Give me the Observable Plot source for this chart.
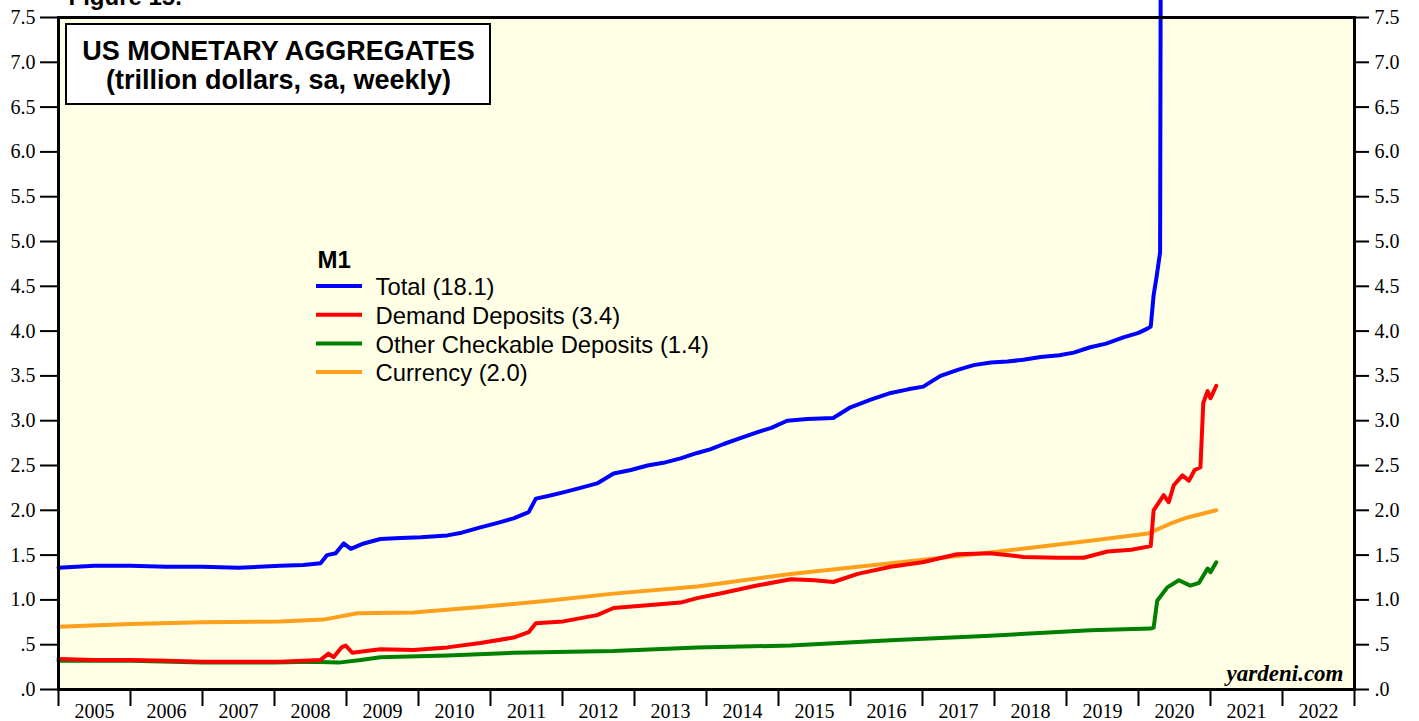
<!DOCTYPE html>
<html>
<head>
<meta charset="utf-8">
<script src="https://cdn.jsdelivr.net/npm/d3@7"></script>
<script src="https://cdn.jsdelivr.net/npm/@observablehq/plot@0.6"></script>
<style>
  html, body { margin: 0; padding: 0; background: #ffffff; }
  #chart svg { display: block; }
</style>
</head>
<body>
<div id="chart"></div>
<script>
// ---- Data (decimal year, trillion dollars) ----
const total = [
  [2005.0,1.36],[2005.5,1.38],[2006.0,1.38],[2006.5,1.37],[2007.0,1.37],[2007.5,1.36],
  [2008.08,1.38],[2008.4,1.39],[2008.64,1.41],[2008.73,1.50],[2008.85,1.52],[2008.96,1.63],
  [2009.06,1.57],[2009.24,1.63],[2009.47,1.68],[2009.75,1.69],[2010.03,1.70],[2010.4,1.72],
  [2010.6,1.75],[2010.86,1.81],[2011.1,1.86],[2011.32,1.91],[2011.53,1.98],[2011.63,2.13],
  [2011.8,2.16],[2012.01,2.20],[2012.25,2.25],[2012.48,2.30],[2012.71,2.41],[2012.95,2.45],
  [2013.18,2.50],[2013.4,2.53],[2013.64,2.58],[2013.87,2.64],[2014.05,2.68],[2014.24,2.74],
  [2014.45,2.80],[2014.7,2.87],[2014.9,2.92],[2015.12,3.00],[2015.4,3.02],[2015.76,3.03],
  [2016.0,3.15],[2016.3,3.24],[2016.56,3.31],[2016.8,3.35],[2017.01,3.38],[2017.25,3.50],
  [2017.5,3.57],[2017.71,3.62],[2017.95,3.65],[2018.18,3.66],[2018.4,3.68],[2018.64,3.71],
  [2018.9,3.73],[2019.1,3.76],[2019.33,3.82],[2019.55,3.86],[2019.79,3.93],[2020.0,3.98],
  [2020.13,4.03],[2020.17,4.05],[2020.21,4.40],[2020.25,4.60],[2020.3,4.88],[2020.33,16.2],
  [2020.5,16.9],[2020.8,17.6],[2021.08,18.1]
];
const demand = [
  [2005.0,0.34],[2005.5,0.33],[2006.0,0.33],[2006.5,0.32],[2007.0,0.31],[2007.5,0.31],
  [2008.08,0.31],[2008.4,0.32],[2008.64,0.33],[2008.75,0.40],[2008.82,0.36],[2008.93,0.47],
  [2008.99,0.49],[2009.08,0.41],[2009.47,0.45],[2009.93,0.44],[2010.4,0.47],[2010.86,0.52],
  [2011.32,0.58],[2011.53,0.64],[2011.63,0.74],[2012.01,0.76],[2012.48,0.83],[2012.71,0.91],
  [2013.18,0.94],[2013.64,0.97],[2013.87,1.02],[2014.24,1.08],[2014.7,1.16],[2015.17,1.23],
  [2015.5,1.22],[2015.76,1.20],[2016.1,1.29],[2016.56,1.37],[2017.0,1.42],[2017.48,1.51],
  [2017.94,1.52],[2018.4,1.48],[2018.87,1.47],[2019.24,1.47],[2019.57,1.54],[2019.9,1.56],
  [2020.17,1.60],[2020.21,2.00],[2020.35,2.17],[2020.42,2.09],[2020.49,2.28],[2020.61,2.39],
  [2020.7,2.33],[2020.78,2.45],[2020.86,2.48],[2020.9,3.20],[2020.96,3.33],[2021.0,3.25],
  [2021.08,3.39]
];
const otherCheckable = [
  [2005.0,0.32],[2006.0,0.32],[2007.0,0.30],[2008.0,0.30],[2008.5,0.31],[2008.89,0.30],
  [2009.2,0.33],[2009.47,0.36],[2010.0,0.37],[2010.4,0.38],[2011.32,0.41],[2012.71,0.43],
  [2013.87,0.47],[2015.17,0.49],[2016.56,0.55],[2017.94,0.60],[2019.33,0.66],[2020.17,0.68],
  [2020.21,0.69],[2020.26,0.99],[2020.4,1.14],[2020.56,1.22],[2020.72,1.16],[2020.84,1.19],
  [2020.96,1.35],[2021.0,1.31],[2021.08,1.42]
];
const currency = [
  [2005.0,0.70],[2006.0,0.73],[2007.0,0.75],[2008.08,0.76],[2008.68,0.78],[2009.15,0.85],
  [2009.93,0.86],[2010.86,0.92],[2011.79,0.99],[2012.71,1.07],[2013.87,1.15],[2015.17,1.29],
  [2016.56,1.41],[2017.94,1.53],[2019.33,1.66],[2020.13,1.74],[2020.44,1.85],[2020.68,1.92],
  [2021.08,2.00]
];
const seriesNames = ["Total (18.1)", "Demand Deposits (3.4)", "Other Checkable Deposits (1.4)", "Currency (2.0)"];
const seriesColors = ["#0000ff", "#ff0000", "#008000", "#ffa01c"];
const yearTicks = d3.range(2005, 2024);          // year boundaries
const yearLabels = d3.range(2005, 2023);         // labels 2005..2022
const yTicks = d3.range(0, 7.51, 0.5);
const titleLines = ["US MONETARY AGGREGATES", "(trillion dollars, sa, weekly)"];

const fmtY = d => d === 0 ? ".0" : (d < 1 ? ".5" : d.toFixed(1));
const SERIF = "Liberation Serif, Times New Roman, serif";
const SANS = "Liberation Sans, Arial, sans-serif";

// ---- annotation helpers (function marks) ----
const titleBox = (index, scales, values, dim) => {
  const g = d3.create("svg:g");
  g.append("rect")
    .attr("x", dim.marginLeft + 8).attr("y", dim.marginTop + 7)
    .attr("width", 424).attr("height", 80)
    .attr("fill", "#ffffff").attr("stroke", "#000").attr("stroke-width", 2);
  return g.node();
};
const legendSwatches = (index, scales, values, dim) => {
  const g = d3.create("svg:g");
  seriesColors.forEach((c, i) => {
    const y = dim.marginTop + 269 + i * 28.7;
    g.append("line")
      .attr("x1", dim.marginLeft + 258).attr("x2", dim.marginLeft + 304)
      .attr("y1", y).attr("y2", y)
      .attr("stroke", c).attr("stroke-width", 4);
  });
  return g.node();
};

const lineOpts = (color) => ({x: d => d[0], y: d => d[1], stroke: color, strokeWidth: 4, strokeLinejoin: "round", strokeLinecap: "round"});

const plot = Plot.plot({
  width: 1419,
  height: 721,
  marginLeft: 58,
  marginRight: 65,
  marginTop: 17,
  marginBottom: 32,
  style: {background: "#ffffff", overflow: "hidden"},
  x: {type: "linear", domain: [2005, 2023]},
  y: {domain: [0, 7.5]},
  marks: [
    Plot.frame({fill: "#ffffe6"}),
    Plot.line(currency, lineOpts(seriesColors[3])),
    Plot.line(otherCheckable, lineOpts(seriesColors[2])),
    Plot.line(demand, lineOpts(seriesColors[1])),
    Plot.line(total, lineOpts(seriesColors[0])),
    Plot.frame({stroke: "#000", strokeWidth: 3}),
    Plot.axisY({anchor: "left", ticks: yTicks, tickFormat: fmtY, tickSize: 18, tickPadding: 5,
      strokeWidth: 2, fontSize: 20, fontFamily: SERIF, label: null, fill: "#000"}),
    Plot.axisY({anchor: "right", ticks: yTicks, tickFormat: fmtY, tickSize: 14, tickPadding: 6,
      strokeWidth: 2, fontSize: 20, fontFamily: SERIF, label: null, fill: "#000"}),
    Plot.axisX({ticks: yearTicks, tickFormat: () => "", tickSize: 17, strokeWidth: 2, label: null}),
    Plot.axisX({ticks: yearLabels.map(y => y + 0.5), tickFormat: d => String(Math.floor(d)), tickSize: 0,
      tickPadding: 14, fontSize: 20, fontFamily: SERIF, label: null, fill: "#000"}),
    titleBox,
    ...titleLines.map((t, i) => Plot.text([t], {frameAnchor: "top-left", dx: 220, dy: 34 + i * 29,
      textAnchor: "middle", lineAnchor: "middle",
      fontSize: 27, fontWeight: "bold", fontFamily: SANS, fill: "#000"})),
    legendSwatches,
    Plot.text(["M1"], {frameAnchor: "top-left", dx: 259, dy: 243, textAnchor: "start", lineAnchor: "middle",
      fontSize: 24, fontWeight: "bold", fontFamily: SANS, fill: "#000"}),
    ...seriesNames.map((name, i) => Plot.text([name], {frameAnchor: "top-left", dx: 317, dy: 270 + i * 28.7,
      textAnchor: "start", lineAnchor: "middle", fontSize: 23.8, fontFamily: SANS, fill: "#000"})),
    Plot.text(["yardeni.com"], {frameAnchor: "bottom-right", dx: -11, dy: -9, textAnchor: "end", lineAnchor: "bottom",
      fontSize: 23, fontWeight: "bold", fontStyle: "italic", fontFamily: SERIF, fill: "#000"}),
    Plot.text(["Figure 15."], {frameAnchor: "top-left", dx: 10, dy: -13, textAnchor: "start", lineAnchor: "bottom",
      fontSize: 24, fontWeight: "bold", fontFamily: SANS, fill: "#000"})
  ]
});
document.getElementById("chart").append(plot);
</script>
</body>
</html>
